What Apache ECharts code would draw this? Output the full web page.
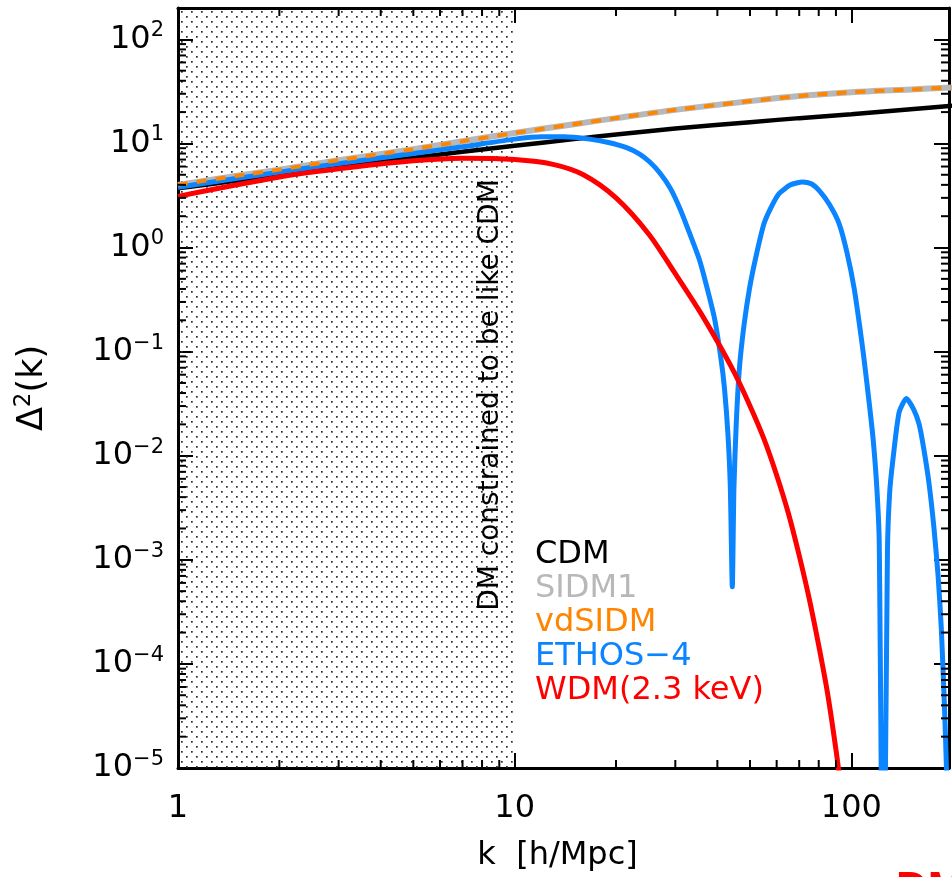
<!DOCTYPE html>
<html>
<head>
<meta charset="utf-8">
<script src="https://cdn.jsdelivr.net/npm/echarts@6/dist/echarts.min.js"></script>
<style>
  html, body { margin: 0; padding: 0; background: #ffffff; overflow: hidden; }
  #chart { width: 952px; height: 877px; }
</style>
</head>
<body>
<div id="chart"></div>
<script>
// Dimensionless power spectrum Δ²(k) for several dark-matter models.

// Smooth models sampled on a common k grid [h/Mpc]
const kSmooth = [1, 1.5, 2, 3, 5, 7, 10, 15, 20, 30, 50, 70, 100, 150, 200];
const cdm     = [3.7, 4.4, 5.0, 5.9, 7.3, 8.3, 9.5, 11.0, 12.2, 13.9, 16.0, 17.5, 19.1, 21.3, 23.0];
const sidm1   = [4.0, 4.9, 5.6, 6.9, 8.8, 10.5, 12.6, 15.3, 17.5, 21.0, 25.5, 28.5, 31.0, 33.0, 34.5];
const vdsidm  = [4.0, 4.9, 5.6, 6.9, 8.8, 10.5, 12.6, 15.3, 17.5, 21.0, 25.5, 28.5, 31.0, 33.0, 34.5];

// ETHOS-4: acoustic oscillations at small scales
const kEthos = [1, 2, 3, 5, 7, 10, 12, 14, 16.7, 19, 21.5, 23.5, 25.1, 27, 29, 31, 33, 35.3, 37, 39.2, 41,
                42, 43, 43.7, 44.3, 44.8, 45.5, 46.5, 48, 49.8, 52, 55, 58, 61, 66, 71.6, 76, 80.4, 86,
                92, 97, 102, 106, 109, 113, 116, 119, 121, 124.4, 128, 130, 133, 138.6, 145.7, 153, 159,
                164, 170, 176, 181, 185, 189, 192, 198];
const ethos4 = [3.8, 5.3, 6.4, 8.0, 9.3, 11.0, 11.6, 11.6, 11.0, 10.2, 9.1, 7.9, 6.7, 5.2, 3.7, 2.35, 1.4, 0.78, 0.45, 0.21, 0.085,
                0.044, 0.016, 0.005, 5.5e-4, 0.005, 0.02, 0.069, 0.18, 0.40, 0.8, 1.69, 2.5, 3.3, 4.0, 4.27, 4.1, 3.5, 2.6,
                1.69, 0.9, 0.40, 0.17, 0.086, 0.032, 0.0147, 0.005, 0.0015, 1e-7, 0.0012, 0.0045, 0.0094, 0.026, 0.0355, 0.028, 0.02,
                0.0118, 0.0055, 0.002, 7e-4, 2.2e-4, 4e-5, 8e-6, 1e-7];

// Warm dark matter, 2.3 keV thermal relic
const kWdm = [1, 2, 3, 5, 7, 10, 13, 16, 20, 25, 30, 35, 40, 45, 50, 55, 60, 65, 70, 75, 80, 85, 90, 95];
const wdm  = [3.1, 4.75, 5.7, 6.8, 7.2, 7.0, 6.3, 5.0, 3.0, 1.35, 0.56, 0.26, 0.125, 0.062, 0.030, 0.0145, 0.0065,
              0.0028, 0.0011, 4.2e-4, 1.5e-4, 5.2e-5, 1.5e-5, 4e-6];

// Axis ranges
const K_MIN = 1, K_MAX = 195;
const D_MIN = 1e-5, D_MAX = 200;
const K_LIKE_CDM = 10;   // scales below this are constrained to behave like CDM

const FONT = '"DejaVu Sans", "Noto Sans", sans-serif';
const COLORS = { cdm: '#000000', sidm1: '#b8b8b8', vdsidm: '#ff8400', ethos: '#0a84ff', wdm: '#ff0000' };

const pairs = (xs, ys) => xs.map((x, i) => [x, ys[i]]);

// values m·10^e (m = 2..9) strictly inside (lo, hi), for minor ticks
function minorValues(lo, hi) {
  const out = [];
  for (let e = Math.floor(Math.log10(lo)); e <= Math.ceil(Math.log10(hi)); e++) {
    for (let m = 2; m <= 9; m++) {
      const v = m * Math.pow(10, e);
      if (v > lo * 1.0001 && v < hi * 0.9999) out.push(v);
    }
  }
  return out;
}
const xMinor = minorValues(K_MIN, K_MAX);
const yMinor = minorValues(D_MIN, D_MAX);

function isDecade(v) {
  const e = Math.log10(v);
  return Math.abs(e - Math.round(e)) < 1e-6;
}
function plainLabel(v) {
  return isDecade(v) ? String(Math.round(v)) : '';
}
function powerLabel(v) {
  if (!isDecade(v)) return '';
  const e = Math.round(Math.log10(v));
  return '{b|10}{s|' + (e < 0 ? '\u2212' + (-e) : e) + '}';
}

// dotted hatch used for the constrained region
function dotPattern() {
  const c = document.createElement('canvas');
  c.width = 10; c.height = 10;
  const g = c.getContext('2d');
  g.fillStyle = '#2a2a2a';
  g.fillRect(1, 1, 1.7, 1.7);
  g.fillRect(6, 6, 1.7, 1.7);
  return c;
}

const axisBase = {
  type: 'log',
  logBase: 10,
  axisLine: { show: true, onZero: false, lineStyle: { color: '#000', width: 3 } },
  axisTick: { show: true, inside: true, length: 15, lineStyle: { color: '#000', width: 2 } },
  splitLine: { show: false },
  minorTick: { show: false }
};

const tickStyle = { stroke: '#000', lineWidth: 2 };
const MINOR_LEN = 8;

const chart = echarts.init(document.getElementById('chart'), null, { renderer: 'canvas' });

chart.setOption({
  animation: false,
  backgroundColor: '#ffffff',
  grid: { left: 178, right: 2, top: 8, bottom: 107, containLabel: false },
  xAxis: [
    Object.assign({}, axisBase, {
      position: 'bottom', min: K_MIN, max: K_MAX,
      axisLabel: { formatter: plainLabel, fontSize: 32, color: '#000', fontFamily: FONT, margin: 25 },
      name: 'k  [h/Mpc]', nameLocation: 'middle', nameGap: 72,
      nameTextStyle: { fontSize: 32, color: '#000', fontFamily: FONT, padding: [0, 12, 0, 0] }
    }),
    Object.assign({}, axisBase, {
      position: 'top', min: K_MIN, max: K_MAX, axisLabel: { show: false }
    })
  ],
  yAxis: [
    Object.assign({}, axisBase, {
      position: 'left', min: D_MIN, max: D_MAX,
      axisLabel: {
        formatter: powerLabel, margin: 14, color: '#000',
        rich: {
          b: { fontSize: 32, fontFamily: FONT, color: '#000', lineHeight: 38 },
          s: { fontSize: 21, fontFamily: FONT, color: '#000', lineHeight: 17, verticalAlign: 'top' }
        }
      },
      name: '{b|\u0394}{s|2}{b|(k)}', nameLocation: 'middle', nameGap: 125,
      nameTextStyle: {
        rich: {
          b: { fontSize: 35, fontFamily: FONT, color: '#000', lineHeight: 40 },
          s: { fontSize: 23, fontFamily: FONT, color: '#000', lineHeight: 18, verticalAlign: 'top' }
        }
      }
    }),
    Object.assign({}, axisBase, {
      position: 'right', min: D_MIN, max: D_MAX, axisLabel: { show: false }
    })
  ],
  legend: {
    orient: 'vertical', left: 525, top: 533,
    icon: 'rect', itemWidth: 0, itemHeight: 0, itemGap: 0,
    selectedMode: false,
    textStyle: { fontSize: 32, fontFamily: FONT, lineHeight: 34 },
    data: [
      { name: 'CDM', textStyle: { color: COLORS.cdm } },
      { name: 'SIDM1', textStyle: { color: COLORS.sidm1 } },
      { name: 'vdSIDM', textStyle: { color: COLORS.vdsidm } },
      { name: 'ETHOS\u22124', textStyle: { color: COLORS.ethos } },
      { name: 'WDM(2.3 keV)', textStyle: { color: COLORS.wdm } }
    ]
  },
  graphic: [
    {
      type: 'text', x: 491, y: 395, rotation: Math.PI / 2, z: 10,
      style: {
        text: 'DM constrained to be like CDM', font: '28px ' + FONT, fill: '#000',
        textAlign: 'center', textVerticalAlign: 'middle'
      }
    },
    {
      // slide caption below the figure, running off the lower edge
      type: 'text', x: 896, y: 891, z: 10,
      style: {
        text: 'DM', font: 'bold 44px "Liberation Sans", sans-serif', fill: '#ff0000',
        textAlign: 'left', textVerticalAlign: 'middle'
      }
    }
  ],
  series: [
    {
      // constrained-scale region
      name: 'constrained', type: 'line', data: [[K_MIN, 1], [K_LIKE_CDM, 1]],
      showSymbol: false, lineStyle: { opacity: 0 }, silent: true, z: 1,
      markArea: {
        silent: true,
        itemStyle: { color: { image: dotPattern(), repeat: 'repeat' } },
        data: [[{ xAxis: K_MIN }, { xAxis: K_LIKE_CDM }]]
      }
    },
    {
      name: 'CDM', type: 'line', data: pairs(kSmooth, cdm), showSymbol: false, smooth: 0.3,
      lineStyle: { color: COLORS.cdm, width: 4.5 }, itemStyle: { color: COLORS.cdm }, z: 3
    },
    {
      name: 'SIDM1', type: 'line', data: pairs(kSmooth, sidm1), showSymbol: false, smooth: 0.3,
      lineStyle: { color: COLORS.sidm1, width: 6 }, itemStyle: { color: COLORS.sidm1 }, z: 4
    },
    {
      name: 'vdSIDM', type: 'line', data: pairs(kSmooth, vdsidm), showSymbol: false, smooth: 0.3,
      lineStyle: { color: COLORS.vdsidm, width: 4, type: [10, 9] }, itemStyle: { color: COLORS.vdsidm }, z: 5
    },
    {
      name: 'ETHOS\u22124', type: 'line', data: pairs(kEthos, ethos4), showSymbol: false, smooth: 0.2,
      lineStyle: { color: COLORS.ethos, width: 5 }, itemStyle: { color: COLORS.ethos }, z: 4
    },
    {
      name: 'WDM(2.3 keV)', type: 'line', data: pairs(kWdm, wdm), showSymbol: false, smooth: 0.3,
      lineStyle: { color: COLORS.wdm, width: 5 }, itemStyle: { color: COLORS.wdm }, z: 4
    },
    {
      // minor ticks on bottom and top axes
      name: 'xMinor', type: 'custom', silent: true, clip: false, z: 6,
      data: xMinor.map(v => [v, D_MIN]),
      renderItem: (params, api) => {
        const v = api.value(0);
        const b = api.coord([v, D_MIN]);
        const t = api.coord([v, D_MAX]);
        return {
          type: 'group', children: [
            { type: 'line', shape: { x1: b[0], y1: b[1], x2: b[0], y2: b[1] - MINOR_LEN }, style: tickStyle },
            { type: 'line', shape: { x1: t[0], y1: t[1], x2: t[0], y2: t[1] + MINOR_LEN }, style: tickStyle }
          ]
        };
      }
    },
    {
      // minor ticks on left and right axes
      name: 'yMinor', type: 'custom', silent: true, clip: false, z: 6,
      data: yMinor.map(v => [K_MIN, v]),
      renderItem: (params, api) => {
        const v = api.value(1);
        const l = api.coord([K_MIN, v]);
        const r = api.coord([K_MAX, v]);
        return {
          type: 'group', children: [
            { type: 'line', shape: { x1: l[0], y1: l[1], x2: l[0] + MINOR_LEN, y2: l[1] }, style: tickStyle },
            { type: 'line', shape: { x1: r[0], y1: r[1], x2: r[0] - MINOR_LEN, y2: r[1] }, style: tickStyle }
          ]
        };
      }
    }
  ]
});
</script>
</body>
</html>
